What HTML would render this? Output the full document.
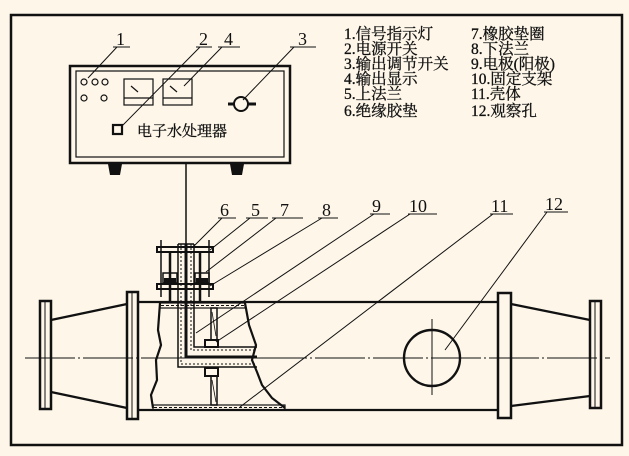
<!DOCTYPE html>
<html><head><meta charset="utf-8"><style>
html,body{margin:0;padding:0;background:#fdf6e9;}
svg{display:block}
text{font-family:"Liberation Serif","Noto Serif CJK SC",serif;fill:#111}
</style></head><body>
<svg width="629" height="456" viewBox="0 0 629 456" xmlns="http://www.w3.org/2000/svg">
<rect width="629" height="456" fill="#fdf6e9"/>
<rect x="11" y="15" width="611" height="430" fill="none" stroke="#111" stroke-width="2.5"/>
<g stroke="#111" fill="none">
<rect x="70" y="66" width="220" height="97" stroke-width="2.5"/>
<rect x="76" y="71" width="208" height="86" stroke-width="1.2"/>
<path d="M108 164 h14 l-2 11 h-10 z M230 164 h14 l-2 11 h-10 z" fill="#111" stroke="none"/>
<g stroke-width="1.2">
<circle cx="84" cy="82" r="3"/><circle cx="95" cy="82" r="3"/><circle cx="105" cy="82" r="3"/>
<circle cx="84" cy="98" r="3"/><circle cx="104" cy="98" r="3"/>
<rect x="124" y="79" width="29" height="26"/><line x1="124" y1="98" x2="153" y2="98"/><line x1="131" y1="86" x2="138" y2="92"/>
<rect x="163" y="79" width="29" height="26"/><line x1="163" y1="98" x2="192" y2="98"/><line x1="170" y1="86" x2="177" y2="92"/>
</g>
<rect x="113" y="125" width="9" height="9" stroke-width="2.2"/>
<circle cx="241" cy="104" r="7" stroke-width="2"/>
<line x1="228" y1="104" x2="234" y2="104" stroke-width="3"/><line x1="248" y1="104" x2="256" y2="104" stroke-width="3"/>
<g stroke-width="1">
<path d="M113 47 H130 M117 47 L88 78"/>
<path d="M196 47 H212 M200 47 L122 126"/>
<path d="M218 47 H240 M222 47 L184 86"/>
<path d="M290 47 H316 M294 47 L243 100"/>
</g>
<line x1="186" y1="163" x2="186" y2="244" stroke-width="1.5"/>
<line x1="25" y1="358" x2="610" y2="358" stroke-width="1" stroke-dasharray="50 3 2 3"/>
<rect x="40" y="301" width="11" height="108" stroke-width="2.5"/>
<line x1="45" y1="301" x2="45" y2="409" stroke-width="1"/>
<path d="M51 320 L127 304 M51 392 L127 408" stroke-width="2.2"/>
<rect x="127" y="292" width="11" height="127" stroke-width="2.5"/>
<line x1="132" y1="292" x2="132" y2="419" stroke-width="1"/>
<path d="M138 302 H498 M138 410 H498" stroke-width="2.2"/>
<rect x="498" y="293" width="13" height="125" stroke-width="2.5"/>
<path d="M511 304 L590 320 M511 406 L590 396" stroke-width="2.2"/>
<rect x="590" y="301" width="11" height="107" stroke-width="2.5"/>
<line x1="595" y1="301" x2="595" y2="408" stroke-width="1"/>
<circle cx="432" cy="358" r="28" stroke-width="2.4"/>
<line x1="432" y1="319" x2="432" y2="395" stroke-width="1"/>
<path d="M160 303 L158 330 L161 345 L156 360 L157 380 L151 395 L153 408" stroke-width="2.2"/>
<path d="M245 303 L249 325 L256 345 L252 360 L257 372 L262 385 L272 398 L285 408" stroke-width="2.2"/>
<rect x="160" y="303" width="85" height="5" stroke-width="1.2"/>
<line x1="161" y1="305.5" x2="244" y2="305.5" stroke-width="1" stroke-dasharray="3 2"/>
<rect x="153" y="405" width="132" height="5" stroke-width="1.2"/>
<line x1="154" y1="407.5" x2="284" y2="407.5" stroke-width="1" stroke-dasharray="3 2"/>
<rect x="157" y="247" width="56" height="5" stroke-width="2"/>
<rect x="157" y="284" width="56" height="5" stroke-width="2"/>
<path d="M161 240 V297 M209 240 V297" stroke-width="1.5"/>
<path d="M170 252 V302 M200 252 V302" stroke-width="2.5"/>
<rect x="163" y="273" width="14" height="10" stroke-width="1.5"/>
<rect x="164" y="278" width="12" height="5" fill="#111" stroke="none"/>
<rect x="195" y="273" width="14" height="10" stroke-width="1.5"/>
<rect x="196" y="278" width="12" height="5" fill="#111" stroke="none"/>
<path d="M178 244 V367 H257" stroke-width="1.5"/>
<path d="M194 244 V347 H257" stroke-width="1.5"/>
<path d="M181 244 V364 H257 M191 244 V350 H257" stroke-width="1" stroke-dasharray="2 2"/>
<path d="M186 244 V357 H257" stroke-width="3"/>
<path d="M178 244 H194" stroke-width="1.5"/>
<rect x="211" y="308" width="6" height="32" stroke-width="1.5"/>
<line x1="212" y1="312" x2="216" y2="336" stroke-width="0.8"/>
<rect x="205" y="340" width="13" height="7" stroke-width="2"/>
<rect x="205" y="368" width="13" height="8" stroke-width="2"/>
<rect x="211" y="376" width="6" height="29" stroke-width="1.5"/>
<line x1="212" y1="380" x2="216" y2="402" stroke-width="0.8"/>
<g stroke-width="1">
<path d="M218 218 H236 M222 218 L194 246"/>
<path d="M246 218 H268 M250 218 L210 250"/>
<path d="M272 218 H303 M276 218 L206 272"/>
<path d="M318 218 H338 M322 218 L210 286"/>
<path d="M370 214 H390 M374 214 L196 333"/>
<path d="M408 214 H437 M410 214 L216 342"/>
<path d="M490 214 H513 M493 214 L240 407"/>
<path d="M544 212 H568 M547 212 L445 350"/>
</g>
</g>
<g font-size="18">
<text x="116" y="45">1</text><text x="199" y="45">2</text><text x="224" y="45">4</text><text x="298" y="45">3</text>
<text x="220" y="216">6</text><text x="251" y="216">5</text><text x="280" y="216">7</text><text x="322" y="216">8</text>
<text x="372" y="212">9</text><text x="409" y="212">10</text><text x="491" y="212">11</text><text x="545" y="210">12</text>
</g>
<text x="137" y="136" font-size="15" stroke="#111" stroke-width="0.3">电子水处理器</text>
<g font-size="15.5" stroke="#111" stroke-width="0.3">
<text x="344" y="39">1.信号指示灯</text>
<text x="344" y="54">2.电源开关</text>
<text x="344" y="69">3.输出调节开关</text>
<text x="344" y="84">4.输出显示</text>
<text x="344" y="99">5.上法兰</text>
<text x="344" y="116">6.绝缘胶垫</text>
<text x="471" y="39">7.橡胶垫圈</text>
<text x="471" y="54">8.下法兰</text>
<text x="471" y="69">9.电极(阳极)</text>
<text x="471" y="84">10.固定支架</text>
<text x="471" y="99">11.壳体</text>
<text x="471" y="116">12.观察孔</text>
</g>
</svg>
</body></html>
